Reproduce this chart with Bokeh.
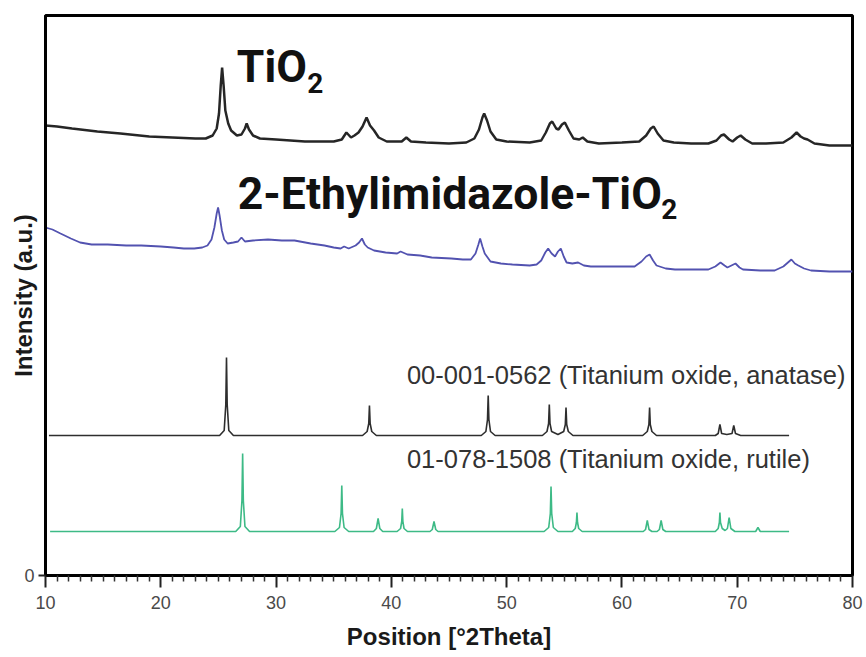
from bokeh.plotting import figure
from bokeh.models import Range1d, FixedTicker
from bokeh.core.properties import value
from bokeh.embed import file_html
from bokeh.resources import INLINE

# ---- measured XRD patterns (2theta in degrees, intensity in a.u.) ----
tio2_2theta = [10.0, 11.0, 12.3, 14.5, 16.5, 19.0, 21.0, 23.0, 23.9, 24.5, 24.85, 25.05, 25.2, 25.32,
               25.45, 25.6, 25.85, 26.1, 26.6, 27.0, 27.3, 27.45, 27.65, 28.0, 28.6, 30.0, 32.5, 35.0,
               35.7, 36.1, 36.5, 36.8, 37.15, 37.5, 37.85, 38.15, 38.5, 38.9, 39.6, 40.9, 41.3, 41.7,
               43.0, 45.0, 46.5, 47.2, 47.6, 47.9, 48.05, 48.3, 48.6, 49.1, 50.0, 52.0, 53.0, 53.4,
               53.75, 53.95, 54.3, 54.5, 54.8, 55.05, 55.4, 55.8, 56.3, 56.6, 57.0, 58.0, 60.0, 61.5,
               62.1, 62.5, 62.75, 63.1, 63.6, 64.5, 66.0, 67.5, 68.2, 68.6, 68.85, 69.3, 69.6, 70.0,
               70.3, 70.7, 71.3, 72.5, 74.0, 74.7, 75.15, 75.5, 75.8, 76.1, 76.7, 78.0, 80.0]
tio2_counts = [450, 449, 447, 444, 442, 439, 438, 437, 437, 440, 447, 462, 490, 508,
               490, 465, 452, 445, 440, 441, 447, 452, 446, 440, 437, 436, 434, 434,
               436, 443, 438, 440, 443, 449, 458, 450, 445, 438, 434, 434, 438, 434,
               433, 432, 433, 437, 446, 458, 462, 455, 444, 436, 434, 433, 435, 443,
               452, 454, 447, 446, 451, 453, 445, 437, 436, 438, 434, 432, 433, 434,
               440, 447, 449, 442, 435, 433, 432, 432, 435, 440, 441, 436, 434, 438,
               440, 436, 432, 432, 433, 438, 443, 439, 437, 436, 432, 430, 430]

ethyl_2theta = [10.0, 10.6, 11.3, 12.2, 13.0, 14.0, 15.4, 17.0, 18.3, 20.0, 21.1, 22.0, 22.9, 23.6,
                24.05, 24.4, 24.65, 24.85, 24.97, 25.1, 25.3, 25.5, 25.8, 26.3, 26.7, 27.0, 27.3,
                28.0, 29.3, 30.5, 31.6, 33.0, 34.2, 35.0, 35.6, 35.9, 36.3, 36.9, 37.2, 37.45, 37.7,
                37.95, 38.5, 39.5, 40.5, 40.8, 41.4, 42.5, 43.5, 45.2, 46.2, 46.9, 47.3, 47.55, 47.7,
                47.9, 48.1, 48.6, 49.5, 50.5, 52.0, 52.6, 53.0, 53.35, 53.6, 53.9, 54.2, 54.45, 54.7,
                54.95, 55.2, 55.7, 56.2, 56.7, 57.3, 59.0, 61.1, 61.7, 62.1, 62.4, 62.7, 63.0, 63.8,
                64.6, 66.0, 67.5, 68.1, 68.55, 68.9, 69.15, 69.5, 69.85, 70.2, 70.5, 72.0, 73.25,
                74.0, 74.4, 74.7, 75.0, 75.3, 75.8, 76.4, 78.0, 79.8, 80.0]
ethyl_counts = [348, 346, 342, 337, 333, 331, 331, 330, 330, 329, 328, 327, 327, 328,
                330, 336, 348, 362, 368, 360, 345, 336, 332, 333, 334, 338, 334,
                335, 336, 335, 335, 332, 330, 328, 327, 329, 327, 330, 333, 337, 331,
                328, 325, 323, 322, 324, 321, 320, 318, 317, 316, 316, 322, 331, 337,
                329, 322, 314, 312, 311, 310, 311, 315, 323, 327, 322, 319, 324, 327,
                319, 313, 312, 313, 310, 309, 309, 309, 314, 319, 321, 315, 310, 307,
                306, 306, 306, 309, 313, 310, 308, 310, 312, 308, 306, 305, 305,
                309, 313, 316, 312, 310, 307, 305, 304, 304, 304]

# ---- reference patterns ----
anatase_2theta = [10.3, 25.1, 25.5, 25.64, 25.7, 25.76, 25.9, 26.3,
                  37.5, 37.9, 38.04, 38.1, 38.16, 38.3, 38.7,
                  47.8, 48.2, 48.34, 48.4, 48.46, 48.6, 49.0,
                  53.1, 53.5, 53.64, 53.7, 53.76, 53.9, 54.45,
                  54.95, 55.09, 55.15, 55.21, 55.35, 55.75,
                  61.8, 62.2, 62.34, 62.4, 62.46, 62.6, 63.0,
                  68.1, 68.35, 68.5, 68.65, 69.1, 69.55, 69.7, 69.85, 70.3, 74.5]
anatase_counts = [140, 140, 145, 171, 218, 171, 145, 140,
                  140, 144, 152, 170, 152, 144, 140,
                  140, 144, 156, 180, 156, 144, 140,
                  140, 144, 152, 171, 152, 144, 141,
                  144, 151, 168, 151, 144, 140,
                  140, 144, 151, 168, 151, 144, 140,
                  140, 142, 151, 142, 141, 142, 150, 142, 140, 140]

rutile_2theta = [10.4, 26.5, 26.9, 27.04, 27.1, 27.16, 27.3, 27.7,
                 35.1, 35.5, 35.64, 35.7, 35.76, 35.9, 36.3,
                 38.45, 38.7, 38.85, 39.0, 39.25,
                 40.5, 40.8, 40.9, 40.95, 41.0, 41.1, 41.4,
                 43.35, 43.55, 43.7, 43.85, 44.05,
                 53.25, 53.65, 53.79, 53.85, 53.91, 54.05, 54.45,
                 55.7, 55.95, 56.05, 56.1, 56.15, 56.25, 56.55,
                 61.85, 62.05, 62.2, 62.35, 62.6,
                 63.05, 63.25, 63.4, 63.55, 63.8,
                 68.1, 68.35, 68.45, 68.5, 68.55, 68.7, 68.95, 69.15, 69.3, 69.45, 69.8,
                 71.6, 71.8, 72.0, 74.5]
rutile_counts = [44, 44, 49, 75, 122, 75, 49, 44,
                 44, 48, 62, 90, 62, 48, 44,
                 44, 47, 57, 47, 44,
                 44, 47, 54, 67, 54, 47, 44,
                 44, 46, 54, 46, 44,
                 44, 48, 62, 89, 62, 48, 44,
                 44, 47, 53, 63, 53, 47, 44,
                 44, 46, 55, 46, 44,
                 44, 46, 55, 46, 44,
                 44, 47, 53, 63, 53, 47, 45, 47, 58, 47, 44,
                 44, 48, 44, 44]

x_ticks = [10, 20, 30, 40, 50, 60, 70, 80]
x_minor = [v for v in range(10, 81) if v % 10]

AXIS_FONT = "Liberation Sans"
TITLE_FONT = "Roboto"

p = figure(width=866, height=657, output_backend="svg", toolbar_location=None,
           x_range=Range1d(10, 80), y_range=Range1d(0, 560),
           min_border_left=45, min_border_right=14, min_border_top=15, min_border_bottom=82)
p.background_fill_color = "white"
p.border_fill_color = "white"
p.grid.visible = False
p.outline_line_color = "black"
p.outline_line_width = 3

# patterns
p.line(tio2_2theta, tio2_counts, line_color="#262626", line_width=2.5)
p.line(ethyl_2theta, ethyl_counts, line_color="#5252b0", line_width=1.8)
p.line(anatase_2theta, anatase_counts, line_color="#2e2e2e", line_width=1.6)
p.line(rutile_2theta, rutile_counts, line_color="#3dba86", line_width=1.6)


def label(x, y, s, font, size, color, bold=False):
    p.text(x=[x], y=[y], text=[s], text_font=value(font),
           text_font_style="bold" if bold else "normal", text_font_size=size,
           text_color=color, text_baseline="alphabetic", text_align="left")


# sample names with subscripts
label(26.6, 509, "TiO", TITLE_FONT, "44.5px", "#111111", bold=True)
label(32.7, 493, "2", TITLE_FONT, "28px", "#111111", bold=True)
label(26.68, 382, "2-Ethylimidazole-TiO", TITLE_FONT, "44.5px", "#111111", bold=True)
label(63.4, 367, "2", TITLE_FONT, "28px", "#111111", bold=True)

# reference card labels
label(41.35, 201, "00-001-0562 (Titanium oxide, anatase)", AXIS_FONT, "25.5px", "#333333")
label(41.35, 117, "01-078-1508 (Titanium oxide, rutile)", AXIS_FONT, "25.5px", "#333333")

# x axis
xa = p.xaxis[0]
xa.ticker = FixedTicker(ticks=x_ticks, minor_ticks=x_minor)
xa.axis_label = "Position [°2Theta]"
xa.axis_label_text_font = AXIS_FONT
xa.axis_label_text_font_style = "bold"
xa.axis_label_text_font_size = "24px"
xa.axis_label_text_color = "#1a1a1a"
xa.axis_label_standoff = 11
xa.major_label_text_font = AXIS_FONT
xa.major_label_text_font_size = "18px"
xa.major_label_text_color = "#4a4a4a"
xa.major_label_standoff = 8
xa.axis_line_color = "black"
xa.axis_line_width = 3
xa.major_tick_out = 12
xa.major_tick_in = 0
xa.minor_tick_out = 6
xa.minor_tick_in = 0
xa.major_tick_line_width = 2
xa.minor_tick_line_width = 1.5
xa.major_tick_line_color = "#222222"
xa.minor_tick_line_color = "#333333"

# y axis
ya = p.yaxis[0]
ya.ticker = FixedTicker(ticks=[0], minor_ticks=[])
ya.axis_label = "Intensity (a.u.)"
ya.axis_label_text_font = AXIS_FONT
ya.axis_label_text_font_style = "bold"
ya.axis_label_text_font_size = "24px"
ya.axis_label_text_color = "#1a1a1a"
ya.axis_label_standoff = -16
ya.major_label_text_font = AXIS_FONT
ya.major_label_text_font_size = "18px"
ya.major_label_text_color = "#4a4a4a"
ya.major_label_standoff = 4
ya.axis_line_color = "black"
ya.axis_line_width = 3
ya.major_tick_out = 7
ya.major_tick_in = 0
ya.major_tick_line_width = 2
ya.major_tick_line_color = "#222222"

with open("out.html", "w") as f:
    f.write(file_html(p, INLINE))
